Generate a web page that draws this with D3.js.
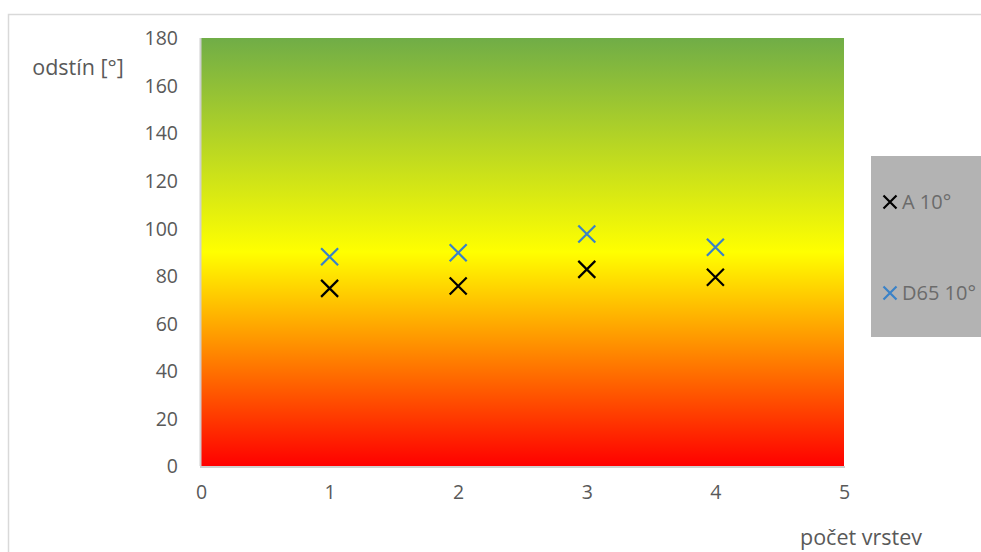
<!DOCTYPE html>
<html><head><meta charset="utf-8">
<script src="https://cdn.jsdelivr.net/npm/d3@7"></script>
<style>
html,body{margin:0;padding:0;background:#fff;}
svg{display:block;font-family:"Open Sans",Calibri,sans-serif;}
</style></head>
<body>
<svg id="chart" width="981" height="552"></svg>
<script>
const xValues = [1, 2, 3, 4];
const seriesA = [74.7, 75.7, 82.7, 79.4];
const seriesD65 = [88.0, 89.7, 97.6, 92.0];
const seriesNames = ["A 10°", "D65 10°"];
const seriesColors = ["#000000", "#3a82c8"];
const xTicks = [0, 1, 2, 3, 4, 5];
const yTicks = [0, 20, 40, 60, 80, 100, 120, 140, 160, 180];
const xTitle = "počet vrstev";
const yTitle = "odstín [°]";

const svg = d3.select("#chart");
const W = 981, H = 552;
const m = {left: 201, right: 844, top: 38, bottom: 466};
const x = d3.scaleLinear().domain([0, 5]).range([m.left, m.right]);
const y = d3.scaleLinear().domain([0, 180]).range([m.bottom, m.top]);

// outer chart border
svg.append("rect").attr("x", 8.5).attr("y", 14.5).attr("width", W + 10).attr("height", H + 10)
  .attr("fill", "#fff").attr("stroke", "#d9d9d9").attr("stroke-width", 1.5);

// gradient background
const defs = svg.append("defs");
const grad = defs.append("linearGradient").attr("id", "bg").attr("x1", 0).attr("y1", 1).attr("x2", 0).attr("y2", 0);
grad.append("stop").attr("offset", "0%").attr("stop-color", "#ff0000");
grad.append("stop").attr("offset", "50%").attr("stop-color", "#ffff00");
grad.append("stop").attr("offset", "100%").attr("stop-color", "#70ad47");

svg.append("rect").attr("x", x(0)).attr("y", y(180)).attr("width", x(5) - x(0)).attr("height", y(0) - y(180))
  .attr("fill", "url(#bg)");

// axis lines
svg.append("line").attr("x1", x(0) - 0.5).attr("x2", x(0) - 0.5).attr("y1", y(180)).attr("y2", y(0))
  .attr("stroke", "#d0d0d0").attr("stroke-width", 2);
svg.append("line").attr("x1", x(0) - 1).attr("x2", x(5) + 1).attr("y1", y(0) + 1).attr("y2", y(0) + 1)
  .attr("stroke", "#d0d0d0").attr("stroke-width", 2);

const labelFont = '"Open Sans",sans-serif';
// y axis labels
const yAxis = d3.axisLeft(y).tickValues(yTicks).tickSize(0).tickPadding(0).tickFormat(d3.format("d"));
const gy = svg.append("g").attr("transform", `translate(${178},0)`).call(yAxis);
gy.select(".domain").remove();
gy.selectAll("text").attr("fill", "#595959").style("font-size", "19.5px").style("font-family", labelFont)
  .attr("dy", "0.35em");

// x axis labels
const xAxis = d3.axisBottom(x).tickValues(xTicks).tickSize(0).tickPadding(0).tickFormat(d3.format("d"));
const gx = svg.append("g").attr("transform", `translate(0,${485})`).call(xAxis);
gx.select(".domain").remove();
gx.selectAll("text").attr("fill", "#595959").style("font-size", "19.5px").style("font-family", labelFont)
  .attr("dy", "0.71em");

// titles
svg.append("text").attr("x", 861).attr("y", 545).attr("text-anchor", "middle").attr("fill", "#595959")
  .style("font-size", "21.5px").text(xTitle);
svg.append("text").attr("x", 78).attr("y", 75).attr("text-anchor", "middle").attr("fill", "#595959")
  .style("font-size", "21.5px").text(yTitle);

// markers
function cross(g, cx, cy, color, r) {
  g.append("path").attr("d", `M${cx - r},${cy - r}L${cx + r},${cy + r}M${cx - r},${cy + r}L${cx + r},${cy - r}`)
    .attr("stroke", color).attr("stroke-width", 2.2).attr("fill", "none");
}
const series = [seriesA, seriesD65];
const gm = svg.append("g");
series.forEach((vals, si) => {
  vals.forEach((v, i) => cross(gm, x(xValues[i]), y(v), seriesColors[si], 8.5));
});

// legend
svg.append("rect").attr("x", 871).attr("y", 156).attr("width", 112).attr("height", 181).attr("fill", "#b3b3b3");
const legY = [202, 293];
seriesNames.forEach((n, i) => {
  cross(svg, 890, legY[i], seriesColors[i], 6.5);
  svg.append("text").attr("x", 902).attr("y", legY[i]).attr("dy", "0.35em").attr("fill", "#6b6b6b")
    .style("font-size", "20px").text(n);
});
</script>
</body></html>
